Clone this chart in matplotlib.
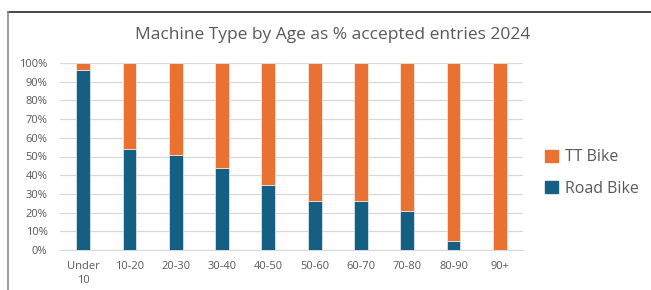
import numpy as np
import matplotlib
matplotlib.use('Agg')
import matplotlib.pyplot as plt
from matplotlib.patches import Patch
from matplotlib.lines import Line2D
from matplotlib.ticker import PercentFormatter

ages = ['Under\n10', '10-20', '20-30', '30-40', '40-50', '50-60',
        '60-70', '70-80', '80-90', '90+']
road = [96, 54, 51, 44, 35, 26, 26, 21, 5, 0]
tt = [100 - r for r in road]

blue = '#156082'
orange = '#E97132'
grey_txt = '#595959'

plt.rcParams['font.family'] = ['Open Sans', 'DejaVu Sans']

W, H = 651, 290
fig = plt.figure(figsize=(W / 100, H / 100), dpi=100)
ax = fig.add_axes([60 / W, 40 / H, (523 - 60) / W, (250 - 63) / H])

x = np.arange(len(ages))
ax.bar(x, road, width=0.30, color=blue, edgecolor='white', linewidth=0.4, zorder=3)
ax.bar(x, tt, bottom=road, width=0.30, color=orange, edgecolor='white', linewidth=0.4, zorder=3)

ax.set_ylim(0, 100)
ax.set_xlim(-0.5, len(ages) - 0.5)
ax.set_yticks(np.arange(0, 101, 10))
ax.yaxis.set_major_formatter(PercentFormatter(decimals=0))
ax.set_xticks(x)
ax.set_xticklabels(ages, linespacing=1.3)
ax.grid(axis='y', color='#D9D9D9', linewidth=0.9, zorder=0)
for s in ['top', 'right', 'left']:
    ax.spines[s].set_visible(False)
ax.spines['bottom'].set_color('#D9D9D9')
ax.tick_params(length=0, labelsize=8, colors=grey_txt)
ax.tick_params(axis='y', pad=9)
ax.tick_params(axis='x', pad=8)

fig.text(333 / W, 1 - 35 / H, 'Machine Type by Age as % accepted entries 2024',
         ha='center', va='center', fontsize=12.5, color=grey_txt)

handles = [Patch(color=orange), Patch(color=blue)]
leg = fig.legend(handles, ['TT Bike', 'Road Bike'], loc='center left',
                 bbox_to_anchor=(531 / W, 1 - 173 / H), frameon=False,
                 fontsize=11.5, handlelength=0.8, handleheight=0.8,
                 handletextpad=0.4, labelspacing=0.95, labelcolor=grey_txt)

# chart frame (cropped): top and left border
fig.add_artist(Line2D([8 / W, 1], [1 - 12 / H, 1 - 12 / H], color='#262626', linewidth=1.2))
fig.add_artist(Line2D([8 / W, 8 / W], [0, 1 - 12 / H], color='#8C8C8C', linewidth=1.2))

fig.savefig('out.png', dpi=100)
